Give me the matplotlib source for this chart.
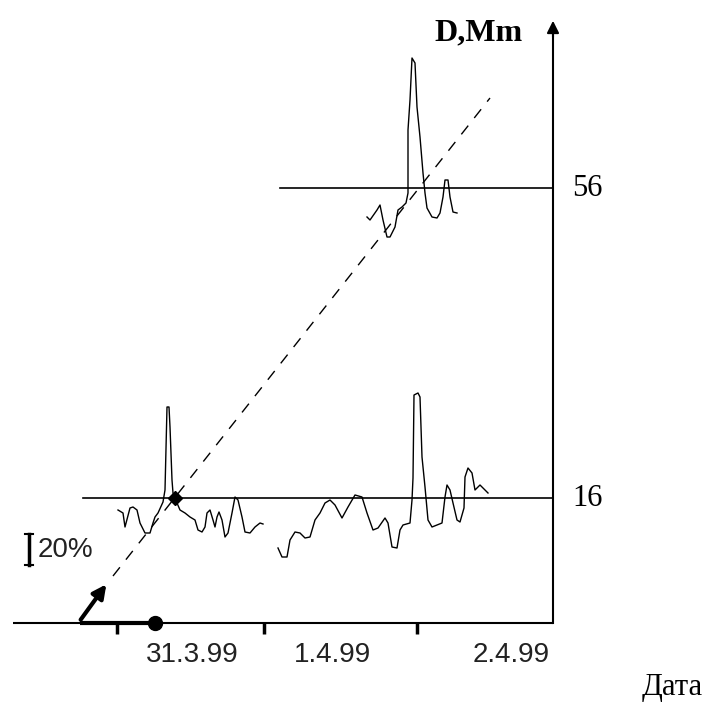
import matplotlib.pyplot as plt

plt.rcParams['font.family'] = ['Liberation Serif', 'DejaVu Serif']

# chart is a schematic, coordinates are in picture units (y grows downward)
W, H = 702, 704

# date axis
tick_x = [117, 264, 417]
tick_labels = ["31.3.99", "1.4.99", "2.4.99"]
label_x = [192, 332, 511]
axis_y = 623
axis_right = 553

# levels D (Mm) and where they sit
level_names = ["56", "16"]
level_y = [188, 498]
level_x0 = [280, 83]

# traces
trace_a_x = [118, 123, 125, 130, 133, 137, 140, 145, 150, 153, 155, 158, 163, 165, 167,
             169, 170, 172, 173, 177, 180, 185, 190, 195, 198, 202, 205, 207, 210, 213,
             215, 217, 219, 222, 225, 228, 232, 235, 238, 242, 245, 250, 255, 260, 263]
trace_a_y = [510, 513, 527, 508, 507, 510, 523, 533, 533, 523, 517, 513, 502, 490, 407,
             407, 427, 480, 493, 503, 510, 513, 517, 520, 530, 532, 527, 513, 510, 520,
             527, 517, 512, 520, 537, 533, 513, 497, 500, 517, 532, 533, 527, 523, 524]

trace_b_x = [278, 282, 287, 290, 295, 300, 305, 310, 315, 320, 325, 330, 335, 342, 348,
             355, 362, 367, 373, 378, 385, 388, 392, 397, 400, 403, 410, 412, 413, 414,
             418, 420, 422, 425, 428, 432, 442, 445, 447, 450, 453, 457, 460, 464, 465,
             468, 472, 475, 480, 488]
trace_b_y = [548, 557, 557, 540, 532, 533, 538, 537, 520, 513, 503, 500, 505, 518, 507,
             495, 497, 513, 530, 528, 518, 523, 547, 548, 530, 525, 523, 500, 478, 395,
             393, 397, 457, 487, 520, 527, 523, 497, 485, 490, 503, 520, 522, 508, 477,
             468, 473, 490, 485, 493]

trace_c_x = [367, 370, 377, 380, 383, 387, 390, 395, 398, 402, 406, 408, 408, 410, 412,
             415, 417, 420, 423, 425, 427, 432, 437, 440, 443, 445, 448, 450, 453, 457]
trace_c_y = [217, 220, 210, 205, 220, 237, 237, 227, 210, 207, 203, 193, 130, 100, 58,
             63, 107, 137, 173, 193, 208, 217, 218, 213, 197, 180, 180, 197, 212, 213]

# trend (dashed) line ends
trend_x = [113, 490]
trend_y = [576, 98]

fig = plt.figure(figsize=(W / 100, H / 100), dpi=100)
ax = fig.add_axes([0, 0, 1, 1])
ax.set_xlim(0, W)
ax.set_ylim(H, 0)
ax.set_axis_off()

# axes
ax.plot([13, axis_right], [axis_y, axis_y], color='k', lw=1.5, solid_capstyle='butt')
ax.plot([axis_right, axis_right], [axis_y, 30], color='k', lw=1.5)
ax.annotate('', xy=(axis_right, 18), xytext=(axis_right, 40),
            arrowprops=dict(arrowstyle='-|>', color='k', lw=1.5,
                            mutation_scale=18))
for tx in tick_x:
    ax.plot([tx, tx], [axis_y, axis_y + 11], color='k', lw=2.5, solid_capstyle='butt')
for lx, lab in zip(label_x, tick_labels):
    ax.text(lx, 655, lab, fontsize=20, ha='center', va='center',
            family=['Liberation Sans', 'DejaVu Sans'], color='#222222')

ax.text(523, 33, "D,Mm", fontsize=23, fontweight='bold', ha='right', va='center')
ax.text(672, 688, "Дата", fontsize=22, ha='center', va='center')

# level lines
for name, ly, lx0 in zip(level_names, level_y, level_x0):
    ax.plot([lx0, axis_right], [ly, ly], color='k', lw=1.2)
    ax.text(572, ly + 1, name, fontsize=22, ha='left', va='center')

# traces
for tx_, ty_ in [(trace_a_x, trace_a_y), (trace_b_x, trace_b_y), (trace_c_x, trace_c_y)]:
    ax.plot(tx_, ty_, color='k', lw=1.0)

ax.plot(trend_x, trend_y, color='k', lw=1.0, linestyle=(0, (8, 7)))
ax.plot([175], [498], marker='D', color='k', markersize=7)

# scale bar 20%
ax.plot([29, 29], [534, 565], color='k', lw=2.5)
ax.plot([25, 33], [534, 534], color='k', lw=1.5)
ax.plot([25, 33], [565, 565], color='k', lw=1.5)
ax.text(38, 550, "20%", fontsize=20, ha='left', va='center',
        family=['Liberation Sans', 'DejaVu Sans'], color='#222222')

# origin marks
ax.plot([80, 155], [axis_y, axis_y], color='k', lw=3, solid_capstyle='butt')
ax.plot([155], [axis_y], marker='o', color='k', markersize=10)
ax.annotate('', xy=(108, 582), xytext=(79, 622),
            arrowprops=dict(arrowstyle='-|>', color='k', lw=3, mutation_scale=20))

fig.savefig('out.png', dpi=100)
